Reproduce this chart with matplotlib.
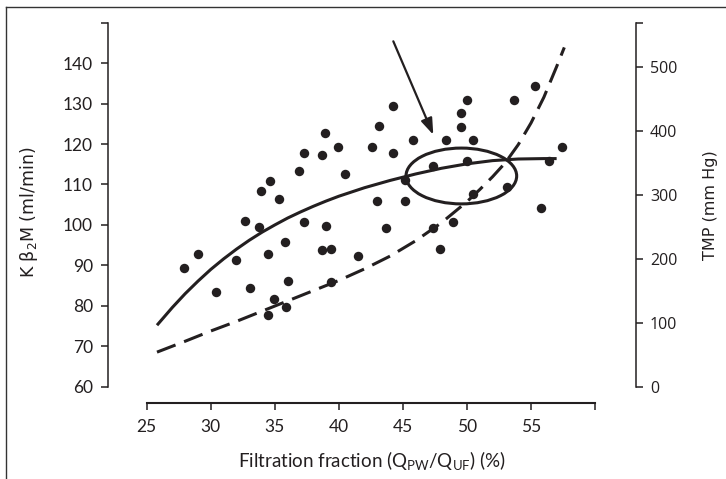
import matplotlib
matplotlib.use('Agg')
import matplotlib.pyplot as plt
from matplotlib.patches import Ellipse
from matplotlib.lines import Line2D

INK = '#231f20'

# measured points (filtration fraction %, K b2M ml/min)
ff = [27.9, 29.0, 30.4, 32.0, 33.1, 32.7, 33.8, 33.9, 34.65, 35.3,
      34.5, 35.8, 34.9, 34.5, 35.9, 36.0, 36.9, 37.3, 37.3, 38.7,
      38.9, 39.9, 40.5, 39.0, 38.7, 39.4, 39.4, 41.5, 42.6, 43.1,
      44.2, 44.2, 43.0, 43.7, 45.2, 45.2, 45.8, 47.35, 47.35, 47.9,
      48.4, 48.9, 49.5, 49.5, 50.0, 50.0, 50.5, 50.5, 53.15, 53.7,
      55.3, 55.8, 56.4, 57.4]
kb2m = [89.3, 92.9, 83.3, 91.4, 84.4, 101.0, 99.5, 108.4, 110.9, 106.5,
        92.8, 95.9, 81.8, 77.7, 79.6, 86.1, 113.4, 117.7, 100.8, 117.3,
        122.7, 119.3, 112.6, 99.8, 93.7, 94.1, 85.8, 92.4, 119.3, 124.4,
        129.3, 117.7, 105.8, 99.2, 111.0, 105.8, 121.1, 114.5, 99.2, 94.1,
        121.1, 100.8, 124.3, 127.7, 131.0, 115.9, 121.1, 107.6, 109.3, 131.0,
        134.4, 104.2, 115.9, 119.3]

# solid curve: K b2M trend
fit_x = [25.8, 27.0, 28.0, 29.0, 30.0, 31.0, 32.0, 33.0, 34.0, 35.0, 36.0,
         37.0, 38.0, 39.0, 40.0, 42.0, 44.0, 46.0, 48.0, 50.0, 52.0, 54.0,
         56.0, 57.0]
fit_k = [75.2, 79.6, 83.0, 86.1, 89.0, 91.6, 94.0, 96.2, 98.2, 100.0, 101.7,
         103.2, 104.6, 105.9, 107.1, 109.2, 111.0, 112.6, 114.0, 115.1, 115.9,
         116.3, 116.4, 116.4]

# dashed curve: TMP trend (right axis)
tmp_x = [25.8, 28.0, 30.0, 32.0, 34.0, 36.0, 38.0, 40.0, 42.0, 44.0, 46.0,
         48.0, 50.0, 51.0, 52.0, 53.0, 54.0, 55.0, 56.0, 57.0, 57.6]
tmp_y = [54, 71, 87, 102, 118, 134, 150, 166, 184, 204, 228,
         256, 289, 308, 328, 350, 378, 412, 452, 500, 530]

x_ticks = [25, 30, 35, 40, 45, 50, 55, 60]
x_labels = ['25', '30', '35', '40', '45', '50', '55', '']
k_ticks = [60, 70, 80, 90, 100, 110, 120, 130, 140, 150]
k_labels = ['60', '70', '80', '90', '100', '110', '120', '130', '140', '']
tmp_ticks = [0, 100, 200, 300, 400, 500, 568.6]
tmp_labels = ['0', '100', '200', '300', '400', '500', '']

plt.rcParams['text.color'] = INK
plt.rcParams['axes.labelcolor'] = INK
plt.rcParams['xtick.color'] = INK
plt.rcParams['ytick.color'] = INK

fig = plt.figure(figsize=(7.26, 4.79), dpi=100)
ax = fig.add_axes([0.1492, 0.1927, 0.7269, 0.7599])
ax2 = ax.twinx()

ax.set_xlim(22.0, 63.2)
ax.set_ylim(60, 150)
ax2.set_ylim(0, 568.6)

ax.plot(ff, kb2m, 'o', color=INK, markersize=6.8, markeredgewidth=0)
ax.plot(fit_x, fit_k, '-', color=INK, lw=2.2, solid_capstyle='butt')
ax2.plot(tmp_x, tmp_y, '-', color=INK, lw=2.2, dashes=(6.5, 3.0))

ax.add_patch(Ellipse((49.56, 112.1), 8.64, 13.8, fill=False, ec=INK, lw=2.2))
ax.annotate('', xy=(47.37, 122.3), xytext=(44.25, 145.4),
            arrowprops=dict(arrowstyle='-|>,head_length=0.7,head_width=0.25',
                            color=INK, lw=1.6, mutation_scale=14,
                            shrinkA=0, shrinkB=0))

# spines
for s in ['top', 'right']:
    ax.spines[s].set_visible(False)
for s in ['top', 'left', 'bottom']:
    ax2.spines[s].set_visible(False)
ax.spines['bottom'].set_position(('outward', 11.5))
ax.spines['bottom'].set_bounds(25, 60)
ax.spines['left'].set_bounds(60, 150)
ax2.spines['right'].set_bounds(0, 568.6)
for sp in [ax.spines['bottom'], ax.spines['left'], ax2.spines['right']]:
    sp.set_color(INK)
    sp.set_linewidth(1.1)
ax.spines['bottom'].set_linewidth(1.5)

ax.set_xticks(x_ticks)
ax.set_xticklabels(x_labels, fontfamily='Lato', fontsize=12.5)
ax.set_yticks(k_ticks)
ax.set_yticklabels(k_labels, fontfamily='Lato', fontsize=12.5)
ax2.set_yticks(tmp_ticks)
ax2.set_yticklabels(tmp_labels, fontfamily='Open Sans', fontsize=11.5)
ax.tick_params(axis='x', direction='out', length=5, width=1.1, pad=7)
ax.tick_params(axis='y', direction='out', length=5, width=1.1, pad=6)
ax2.tick_params(axis='y', direction='out', length=5, width=1.1, pad=5)

ax.set_xlabel(r'Filtration fraction (Q$_\mathregular{PW}$/Q$_\mathregular{UF}$) (%)',
              fontfamily='Lato', fontsize=13.5)
ax.xaxis.set_label_coords(0.5, -0.172)
ax.set_ylabel(r'K $\mathregular{\beta}_\mathregular{2}$M (ml/min)',
              fontfamily='DejaVu Sans', fontsize=12.5)
ax.yaxis.set_label_coords(-0.129, 0.48)
ax2.set_ylabel('TMP (mm Hg)', fontfamily='DejaVu Sans', fontsize=11.5)
ax2.yaxis.set_label_coords(1.127, 0.5)

# frame around the figure (cut off at right and bottom)
fig.add_artist(Line2D([6 / 726, 1.0], [1 - 6.7 / 479] * 2, color='#333333', lw=1.0))
fig.add_artist(Line2D([6 / 726] * 2, [0.0, 1 - 6.7 / 479], color='#333333', lw=1.0))

plt.savefig('out.png', dpi=100)
